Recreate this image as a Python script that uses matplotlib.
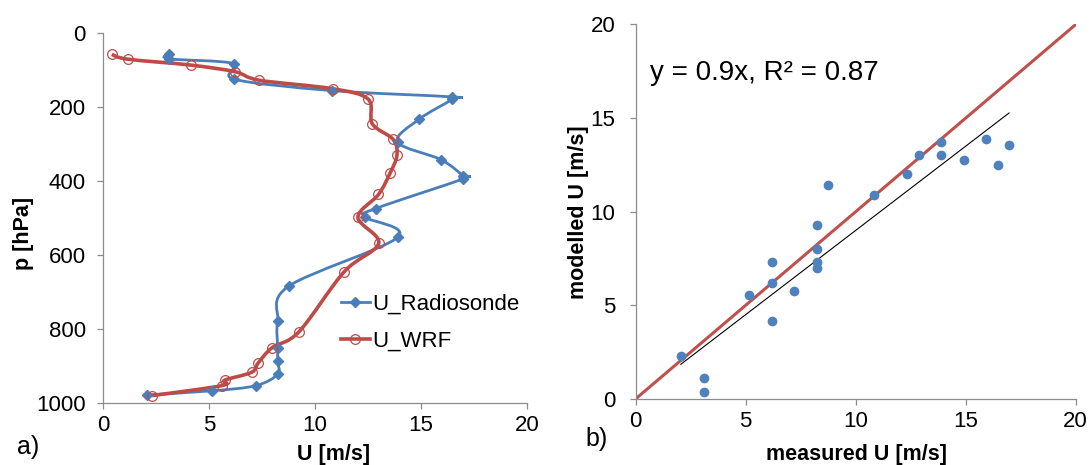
import numpy as np
import matplotlib
matplotlib.use("Agg")
import matplotlib.pyplot as plt
from matplotlib.path import Path
from matplotlib.patches import PathPatch
from matplotlib.lines import Line2D

plt.rcParams['font.family'] = ['Liberation Sans', 'DejaVu Sans']

# a) wind profile: radiosonde vs WRF
u_sonde = [3.09, 3.09, 6.17, 6.17, 10.80, 16.46, 16.46, 14.92, 13.89, 15.95, 16.98, 16.98,
           12.86, 12.35, 13.89, 8.75, 8.23, 8.23, 8.23, 8.23, 7.20, 5.14, 2.06]
p_sonde = [55, 69, 82, 124, 155, 172, 179, 232, 294, 342, 386, 394,
           474, 497, 552, 684, 778, 850, 886, 922, 953, 967, 978]

u_wrf = [0.40, 1.15, 4.13, 6.22, 7.37, 10.84, 12.50, 12.70, 13.68, 13.86, 13.53, 12.99,
         12.02, 13.00, 11.37, 9.24, 7.98, 7.32, 7.00, 5.74, 5.59, 2.31]
p_wrf = [57, 70, 86, 104, 127, 150, 178, 245, 287, 330, 379, 436,
         498, 568, 645, 807, 850, 891, 917, 938, 953, 980]

# b) measured vs modelled U
measured = [2.06, 3.09, 3.09, 5.15, 6.18, 6.18, 6.18, 7.20, 8.24, 8.24, 8.24, 8.24,
            8.74, 10.82, 12.33, 12.86, 13.88, 13.88, 14.91, 15.94, 16.45, 16.97]
modelled = [2.28, 1.14, 0.39, 5.58, 7.34, 6.20, 4.15, 5.76, 9.29, 8.00, 7.33, 7.00,
            11.41, 10.87, 12.01, 13.01, 13.73, 13.03, 12.74, 13.90, 12.51, 13.56]
slope = 0.9
r2 = 0.87

BLUE = '#4A7EBB'
RED = '#BE4B48'
GREY = '#8C8C8C'
W, H = 1090, 465


def smooth_path(x, y):
    # bezier curve through the points (catmull-rom style, like excel's smoothed lines)
    pts = np.column_stack([x, y]).astype(float)
    ext = np.vstack([pts[0], pts, pts[-1]])
    verts = [pts[0]]
    codes = [Path.MOVETO]
    for i in range(len(pts) - 1):
        p0, p1, p2, p3 = ext[i], ext[i + 1], ext[i + 2], ext[i + 3]
        verts += [p1 + (p2 - p0) / 6.0, p2 - (p3 - p1) / 6.0, p2]
        codes += [Path.CURVE4] * 3
    return Path(verts, codes)


def style_axes(ax, ypad):
    for s in ['top', 'right']:
        ax.spines[s].set_visible(False)
    for s in ['left', 'bottom']:
        ax.spines[s].set_color(GREY)
        ax.spines[s].set_linewidth(0.9)
    ax.tick_params(direction='out', length=4.5, width=0.9, color=GREY, labelsize=16)
    ax.tick_params(axis='x', pad=4)
    ax.tick_params(axis='y', pad=ypad)


def ftext(x, y, s, **kw):
    fig.text(x / W, 1 - y / H, s, **kw)


fig = plt.figure(figsize=(10.9, 4.65), dpi=100)

# ---- a) profile
ax1 = fig.add_axes([103.3 / W, 1 - 403 / H, (527 - 103.3) / W, (403 - 33.3) / H])
ax1.add_patch(PathPatch(smooth_path(u_sonde, p_sonde), fill=False, edgecolor=BLUE, lw=2.0))
ax1.plot(u_sonde, p_sonde, ls='none', marker='D', ms=4.8, color=BLUE)
ax1.add_patch(PathPatch(smooth_path(u_wrf, p_wrf), fill=False, edgecolor=RED, lw=2.6))
ax1.plot(u_wrf, p_wrf, ls='none', marker='o', ms=7, mfc='none', mec=RED, mew=0.9)
ax1.set_xlim(0, 20)
ax1.set_ylim(1000, 0)
ax1.set_xticks(range(0, 21, 5))
ax1.set_yticks(range(0, 1001, 200))
style_axes(ax1, 8)

handles = [Line2D([], [], color=BLUE, lw=2.0, marker='D', ms=4.8),
           Line2D([], [], color=RED, lw=2.6, marker='o', ms=7, mfc='none', mec=RED, mew=0.9)]
ax1.legend(handles, ['U_Radiosonde', 'U_WRF'], loc='center left',
           bbox_to_anchor=(0.561, 0.217), frameon=False, fontsize=16,
           handlelength=1.3, handletextpad=0.1, labelspacing=0.75,
           borderpad=0, borderaxespad=0)

# ---- b) scatter
ax2 = fig.add_axes([635.5 / W, 1 - 399 / H, (1075.7 - 635.5) / W, (399 - 24.5) / H])
ax2.plot([0, 20], [0, 20], color='#C0504D', lw=2.2, zorder=2)
fit_x = np.array([min(measured), max(measured)])
ax2.plot(fit_x, slope * fit_x, color='black', lw=0.8, zorder=2)
ax2.plot(measured, modelled, ls='none', marker='o', ms=6, color='#4F81BD', zorder=3)
ax2.set_xlim(0, 20)
ax2.set_ylim(0, 20)
ax2.set_xticks(range(0, 21, 5))
ax2.set_yticks(range(0, 21, 5))
style_axes(ax2, 10)

# labels
ftext(24, 233, 'p [hPa]', rotation=90, ha='center', va='center', fontsize=15.5, fontweight='bold')
ftext(334, 460, 'U [m/s]', ha='center', va='baseline', fontsize=15.5, fontweight='bold')
ftext(17, 454, 'a)', ha='left', va='baseline', fontsize=18)
ftext(579, 212, 'modelled U [m/s]', rotation=90, ha='center', va='center', fontsize=15.5, fontweight='bold')
ftext(857, 460, 'measured U [m/s]', ha='center', va='baseline', fontsize=15.5, fontweight='bold')
ftext(585, 446, 'b)', ha='left', va='baseline', fontsize=18)
ftext(650, 80, 'y = %.1fx, R² = %.2f' % (slope, r2), ha='left', va='baseline', fontsize=20)

fig.savefig('out.png', dpi=100)
